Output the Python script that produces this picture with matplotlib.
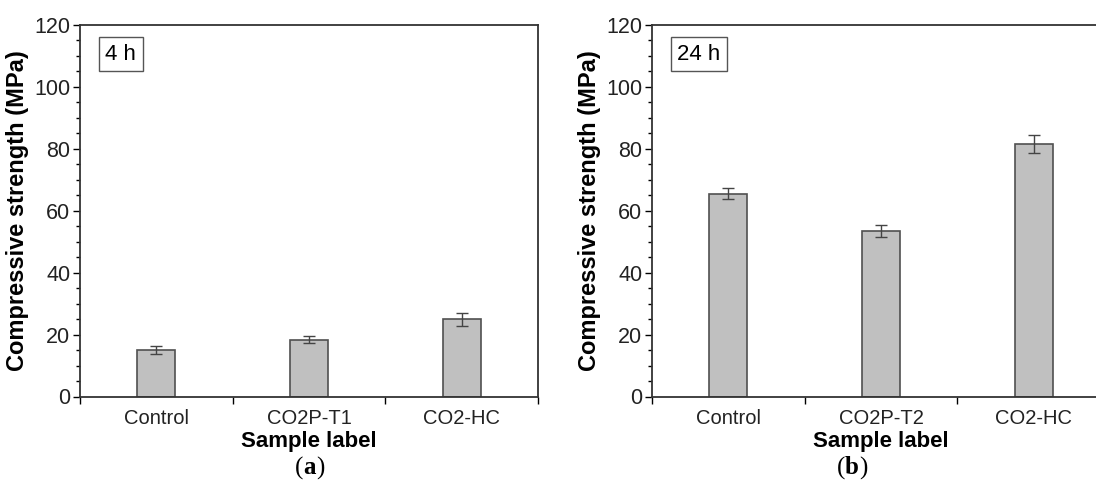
import numpy as np
import matplotlib
matplotlib.use("Agg")
from matplotlib import pyplot as plt
from matplotlib.ticker import MultipleLocator, FixedLocator, NullFormatter

plt.rcParams['font.family'] = ['Liberation Sans', 'DejaVu Sans']

# data
labels_a = ["Control", "CO2P-T1", "CO2-HC"]
strength_a = [15.0, 18.4, 24.9]
err_a = [1.4, 1.2, 2.0]

labels_b = ["Control", "CO2P-T2", "CO2-HC"]
strength_b = [65.5, 53.5, 81.6]
err_b = [1.8, 2.0, 2.9]

W, H = 1096, 492
fig = plt.figure(figsize=(W / 100, H / 100), dpi=100)


def panel(left_px, labels, vals, errs, tag):
    ax = fig.add_axes([left_px / W, (H - 396.5) / H, 458 / W, 371.5 / H])
    x = np.arange(1, len(vals) + 1)
    ax.bar(x, vals, width=0.25, color="#c0c0c0", edgecolor="#505050", linewidth=1.2, zorder=2)
    ax.errorbar(x, vals, yerr=errs, fmt="none", ecolor="#444444", elinewidth=1.0,
                capsize=4, capthick=1.0, zorder=3)
    ax.set_xlim(0.5, 3.5)
    ax.set_ylim(0, 120)
    ax.yaxis.set_major_locator(MultipleLocator(20))
    ax.yaxis.set_minor_locator(MultipleLocator(5))
    # category labels sit between the boundary ticks
    ax.xaxis.set_major_locator(FixedLocator([0.5, 1.5, 2.5, 3.5]))
    ax.xaxis.set_major_formatter(NullFormatter())
    ax.xaxis.set_minor_locator(FixedLocator(x))
    ax.set_xticklabels(labels, minor=True)
    ax.tick_params(axis="x", which="minor", length=0, pad=9, labelsize=14.5, labelcolor="#222222")
    ax.tick_params(axis="x", which="major", length=5, width=1.0, direction="out")
    ax.tick_params(axis="y", which="major", length=5, width=1.0, pad=2, labelsize=15.5, labelcolor="#222222")
    ax.tick_params(axis="y", which="minor", length=3, width=1.0)
    for s in ax.spines.values():
        s.set_linewidth(1.3)
        s.set_color("#333333")
    ax.set_ylabel("Compressive strength (MPa)", fontsize=17, fontweight="bold", labelpad=4)
    ax.set_xlabel("Sample label", fontsize=16, fontweight="bold", labelpad=2)
    ax.text(0.055, 0.95, tag, transform=ax.transAxes, fontsize=16, va="top", ha="left",
            bbox=dict(boxstyle="square,pad=0.3", fc="white", ec="#555555", lw=1.0))
    return ax


ax_a = panel(80, labels_a, strength_a, err_a, "4 h")
ax_b = panel(652, labels_b, strength_b, err_b, "24 h")

# sub-figure captions: "(a)", "(b)" with bold letters
renderer = fig.canvas.get_renderer()


def caption(cx, letter):
    y = (H - 468) / H
    kw = dict(fontsize=18, family=["Liberation Serif", "DejaVu Serif"], va="center")
    parts = [("(", "normal"), (letter, "bold"), (")", "normal")]
    widths = []
    texts = []
    for s, w in parts:
        t = fig.text(0, y, s, fontweight=w, **kw)
        texts.append(t)
        widths.append(t.get_window_extent(renderer).width / W)
    x0 = cx / W - sum(widths) / 2
    for t, w in zip(texts, widths):
        t.set_x(x0)
        x0 += w


caption(310, "a")
caption(852, "b")

fig.savefig("out.png", dpi=100)
